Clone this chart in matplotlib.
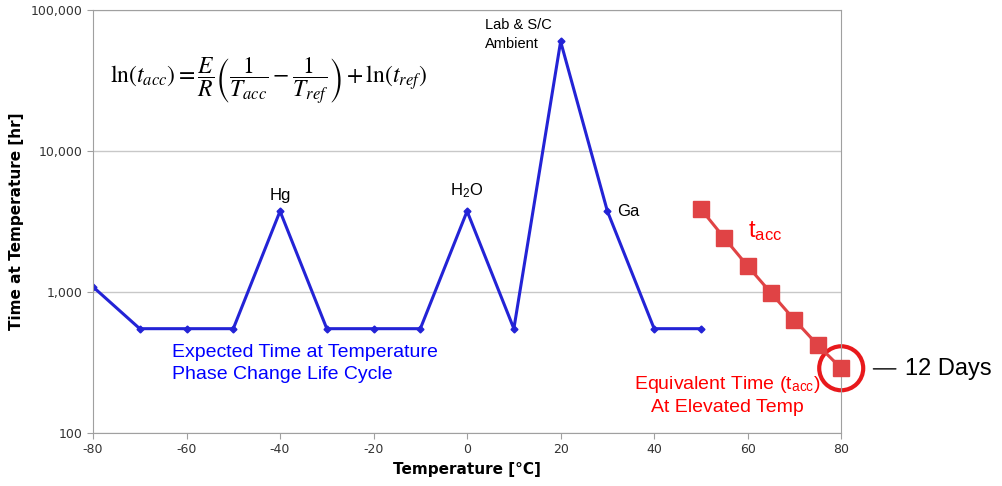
import matplotlib.pyplot as plt
from matplotlib.patches import Ellipse
from matplotlib.transforms import Affine2D, ScaledTranslation

plt.rcParams['mathtext.fontset'] = 'stix'
plt.rcParams['axes.unicode_minus'] = False

# expected time at temperature (phase change life cycle)
temps = [-80, -70, -60, -50, -40, -30, -20, -10, 0, 10, 20, 30, 40, 50]
hours = [1090, 550, 550, 550, 3750, 550, 550, 550, 3750, 550, 60000, 3750, 550, 550]

# equivalent time at elevated temperature
acc_temps = [50, 55, 60, 65, 70, 75, 80]
acc_hours = [3880, 2420, 1530, 985, 635, 420, 288]

yticks = [100, 1000, 10000, 100000]
ytick_labels = ['100', '1,000', '10,000', '100,000']
xticks = [-80, -60, -40, -20, 0, 20, 40, 60, 80]

fig = plt.figure(figsize=(10.03, 4.86), dpi=100)
ax = fig.add_axes([0.0927, 0.109, 0.746, 0.870])

ax.plot(temps, hours, '-D', color='#2323D6', lw=2.2, ms=3.5)
ax.plot(acc_temps, acc_hours, '-s', color='#E04345', lw=2.2, ms=11, clip_on=False, zorder=4)

ax.set_yscale('log')
ax.set_xlim(-80, 80)
ax.set_ylim(100, 100000)
ax.set_yticks(yticks)
ax.set_yticklabels(ytick_labels)
ax.minorticks_off()
ax.set_xticks(xticks)
ax.grid(axis='y', color='#C8C8C8', lw=1)
ax.set_axisbelow(True)
for s in ax.spines.values():
    s.set_color('#A0A0A0')
ax.tick_params(colors='#A0A0A0', labelcolor='#333333', labelsize=9, length=4)

ax.set_xlabel('Temperature [°C]', fontsize=11, fontweight='bold', labelpad=4)
ax.set_ylabel('Time at Temperature [hr]', fontsize=11, fontweight='bold', labelpad=5)

lab = dict(family='Liberation Sans', fontsize=12)
ax.text(-40, 4300, 'Hg', ha='center', va='bottom', **lab)
ax.text(0, 4500, r'H$_\mathregular{2}$O', ha='center', va='bottom', **lab)
ax.text(32, 3750, 'Ga', ha='left', va='center', **lab)
ax.text(3.9, 88000, 'Lab & S/C\nAmbient', ha='left', va='top', linespacing=1.45,
        family='Liberation Sans', fontsize=10.5)
ax.text(60, 2700, r't$_\mathregular{acc}$', color='red', ha='left', va='center',
        family='Liberation Sans', fontsize=17)
ax.text(-63.1, 310, 'Expected Time at Temperature\nPhase Change Life Cycle', color='blue',
        ha='left', va='center', linespacing=1.35, family='Liberation Sans', fontsize=14)
ax.text(55.6, 262, r'Equivalent Time (t$_\mathregular{acc}$)' + '\nAt Elevated Temp', color='red',
        ha='center', va='top', linespacing=1.3, family='Liberation Sans', fontsize=14)

ax.text(-76.4, 31000,
        r'$\ln\!\left(t_{acc}\right)=\dfrac{E}{R}\left(\dfrac{1}{T_{acc}}-\dfrac{1}{T_{ref}}\right)+\ln\!\left(t_{ref}\right)$',
        ha='left', va='center', fontsize=17)

# circle around the 12 day point
circ = Ellipse((0, 0), 44, 44, fill=False, edgecolor='#E8191C', lw=3)
circ.set_transform(Affine2D() + ScaledTranslation(80, 288, ax.transData))
circ.set_clip_on(False)
ax.add_patch(circ)

ax.annotate('', xy=(0.868, 0.241), xycoords='figure fraction',
            xytext=(0.896, 0.241), arrowprops=dict(arrowstyle='-', lw=1, color='black'))
fig.text(0.902, 0.241, '12 Days', ha='left', va='center', family='Liberation Sans', fontsize=17)

fig.savefig('out.png', dpi=100)
